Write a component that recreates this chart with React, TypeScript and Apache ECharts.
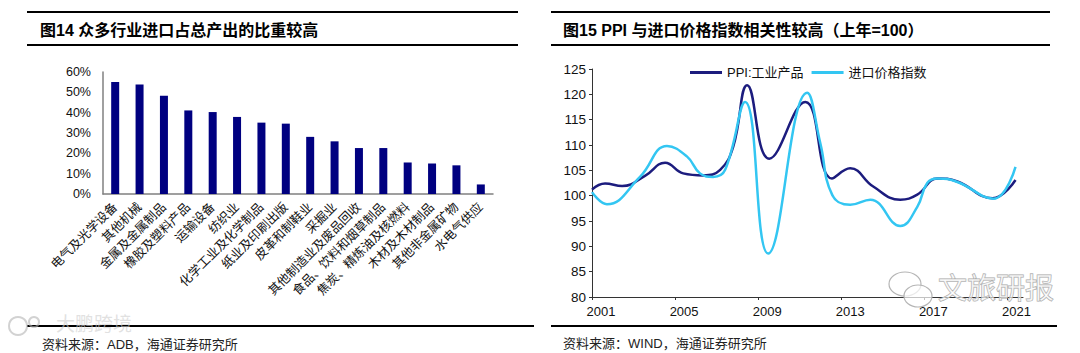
import React, { useEffect, useRef } from 'react';
import * as echarts from 'echarts';

const FONT = '"Liberation Sans", Arial, "Noto Sans CJK SC", sans-serif';

// Left chart: import share of total output by industry (%)
const industries = [
  '电气及光学设备', '其他机械', '金属及金属制品', '橡胶及塑料产品', '运输设备', '纺织业',
  '化学工业及化学制品', '纸业及印刷出版', '皮革和制鞋业', '采掘业', '其他制造业及废品回收',
  '食品、饮料和烟草制品', '焦炭、精炼油及核燃料', '木材及木材制品', '其他非金属矿物', '水电气供应',
];
const importShare = [55.1, 53.8, 48.3, 41.1, 40.3, 37.9, 35.1, 34.6, 28.1, 25.9, 22.6, 22.6, 15.5, 15.0, 14.1, 4.7];

// Right chart: PPI vs import price index (previous year = 100)
const yearBase = 2001;
const ppiYears = [2001.0, 2001.63, 2002.45, 2003.55, 2004.52, 2005.39, 2006.35, 2007.17, 2007.8, 2008.47, 2009.53, 2011.27, 2012.55, 2013.43, 2014.54, 2015.84, 2016.66, 2017.63, 2018.59, 2020.28, 2021.39];
const ppiValues = [101.2, 102.4, 101.9, 103.9, 106.5, 104.4, 104.0, 105.1, 109.7, 121.8, 107.3, 118.5, 103.4, 105.4, 101.8, 99.2, 100.2, 103.4, 102.8, 99.5, 103.1];
const importYears = [2001.0, 2001.72, 2003.31, 2004.61, 2005.58, 2006.2, 2006.83, 2007.41, 2008.37, 2009.48, 2011.36, 2011.99, 2012.57, 2013.43, 2014.4, 2015.84, 2016.66, 2017.14, 2017.63, 2018.59, 2020.33, 2021.39];
const importValues = [100.7, 98.3, 103.7, 109.8, 107.7, 104.4, 103.7, 105.1, 118.5, 88.6, 120.3, 110.4, 100.1, 98.2, 99.2, 94.0, 97.8, 102.5, 103.4, 102.7, 99.4, 105.7];

const seriesNames = ['PPI:工业产品', '进口价格指数'];

export default function App() {
  const ref = useRef<HTMLDivElement>(null);
  useEffect(() => {
    if (!ref.current) return;
    const chart = echarts.init(ref.current, null, { renderer: 'svg' });
    const ppiData = ppiYears.map((y, i) => [y - yearBase, ppiValues[i]]);
    const impData = importYears.map((y, i) => [y - yearBase, importValues[i]]);
    const option: any = {
      animation: false,
      backgroundColor: '#ffffff',
      textStyle: { fontFamily: FONT },
      grid: [
        { left: 103, top: 72, width: 390, height: 122 },
        { left: 592, top: 69, width: 431, height: 228 },
      ],
      legend: {
        left: 685,
        top: 61,
        icon: 'rect',
        itemWidth: 32,
        itemHeight: 3,
        itemGap: 8,
        textStyle: { fontSize: 13, color: '#111', fontFamily: FONT },
        data: seriesNames,
      },
      xAxis: [
        {
          gridIndex: 0,
          type: 'category',
          data: industries,
          axisLine: { lineStyle: { color: '#808080', width: 1.5 } },
          axisTick: { show: false },
          axisLabel: { interval: 0, rotate: 45, fontSize: 12.5, color: '#111', margin: 11, fontFamily: FONT },
        },
        {
          gridIndex: 1,
          type: 'value',
          min: 0,
          max: 20.75,
          interval: 4,
          splitLine: { show: false },
          axisLine: { lineStyle: { color: '#333', width: 1 } },
          axisTick: { show: true, length: 3, lineStyle: { color: '#333' } },
          axisLabel: {
            fontSize: 13,
            color: '#111',
            margin: 8,
            padding: [0, 0, 0, 18],
            showMaxLabel: false,
            formatter: (v: number) => (v % 4 === 0 ? String(v + yearBase) : ''),
          },
        },
      ],
      yAxis: [
        {
          gridIndex: 0,
          type: 'value',
          min: 0,
          max: 60,
          interval: 10,
          splitLine: { show: false },
          axisLine: { show: true, lineStyle: { color: '#808080', width: 1.5 } },
          axisTick: { show: false },
          axisLabel: { formatter: '{value}%', fontSize: 12.5, color: '#111', margin: 12 },
        },
        {
          gridIndex: 1,
          type: 'value',
          min: 80,
          max: 125,
          interval: 5,
          splitLine: { show: false },
          axisLine: { show: true, lineStyle: { color: '#333', width: 1 } },
          axisTick: { show: true, length: 3, lineStyle: { color: '#333' } },
          axisLabel: { fontSize: 13.5, color: '#111', margin: 6 },
        },
      ],
      series: [
        {
          type: 'bar',
          xAxisIndex: 0,
          yAxisIndex: 0,
          data: importShare,
          barWidth: 8,
          itemStyle: { color: '#000080' },
        },
        {
          name: seriesNames[0],
          type: 'line',
          xAxisIndex: 1,
          yAxisIndex: 1,
          data: ppiData,
          smooth: 0.45,
          showSymbol: false,
          lineStyle: { color: '#1c1c7e', width: 2.5 },
          itemStyle: { color: '#1c1c7e' },
        },
        {
          name: seriesNames[1],
          type: 'line',
          xAxisIndex: 1,
          yAxisIndex: 1,
          data: impData,
          smooth: 0.45,
          showSymbol: false,
          lineStyle: { color: '#33c6f2', width: 2.5 },
          itemStyle: { color: '#33c6f2' },
        },
      ],
      graphic: [
        { type: 'line', shape: { x1: 27, y1: 12, x2: 518, y2: 12 }, style: { stroke: '#000', lineWidth: 2 } },
        { type: 'line', shape: { x1: 27, y1: 45, x2: 518, y2: 45 }, style: { stroke: '#000', lineWidth: 2 } },
        { type: 'line', shape: { x1: 27, y1: 326, x2: 534, y2: 326 }, style: { stroke: '#000', lineWidth: 2 } },
        { type: 'line', shape: { x1: 551, y1: 12, x2: 1050, y2: 12 }, style: { stroke: '#000', lineWidth: 2 } },
        { type: 'line', shape: { x1: 551, y1: 45, x2: 1050, y2: 45 }, style: { stroke: '#000', lineWidth: 2 } },
        { type: 'line', shape: { x1: 551, y1: 326, x2: 1057, y2: 326 }, style: { stroke: '#000', lineWidth: 2 } },
        {
          type: 'text', x: 40, y: 30,
          style: { text: '图14 众多行业进口占总产出的比重较高', font: `bold 16px ${FONT}`, fill: '#000', verticalAlign: 'middle' },
        },
        {
          type: 'text', x: 563, y: 30,
          style: { text: '图15 PPI 与进口价格指数相关性较高（上年=100）', font: `bold 16px ${FONT}`, fill: '#000', verticalAlign: 'middle' },
        },
        {
          type: 'text', x: 42, y: 344,
          style: { text: '资料来源：ADB，海通证券研究所', font: `13px ${FONT}`, fill: '#222', verticalAlign: 'middle' },
        },
        {
          type: 'text', x: 563, y: 343,
          style: { text: '资料来源：WIND，海通证券研究所', font: `13px ${FONT}`, fill: '#222', verticalAlign: 'middle' },
        },
        // watermarks
        { type: 'circle', shape: { cx: 18, cy: 326, r: 9 }, style: { fill: 'none', stroke: 'rgba(180,180,180,0.6)', lineWidth: 2 } },
        { type: 'circle', shape: { cx: 34, cy: 322, r: 5 }, style: { fill: 'none', stroke: 'rgba(180,180,180,0.6)', lineWidth: 2 } },
        {
          type: 'text', x: 56, y: 324, z: 10,
          style: { text: '大鹏跨境', font: `19px ${FONT}`, fill: 'rgba(205,205,205,0.6)', verticalAlign: 'middle' },
        },
        { type: 'ellipse', shape: { cx: 905, cy: 284, rx: 16, ry: 12 }, style: { fill: 'rgba(255,255,255,0.7)', stroke: '#b5b5b5', lineWidth: 1.2 }, z: 10 },
        { type: 'ellipse', shape: { cx: 918, cy: 296, rx: 14, ry: 11 }, style: { fill: 'rgba(255,255,255,0.7)', stroke: '#b5b5b5', lineWidth: 1.2 }, z: 10 },
        {
          type: 'text', x: 938, y: 289, z: 10,
          style: { text: '文旅研报', font: `29px ${FONT}`, fill: 'rgba(255,255,255,0.55)', stroke: '#a8a8a8', lineWidth: 1, verticalAlign: 'middle' },
        },
      ],
    };
    chart.setOption(option);
    return () => chart.dispose();
  }, []);
  return (
    <div
      ref={ref}
      style={{ position: 'absolute', left: 0, top: 0, width: 1080, height: 353, background: '#fff' }}
    />
  );
}
